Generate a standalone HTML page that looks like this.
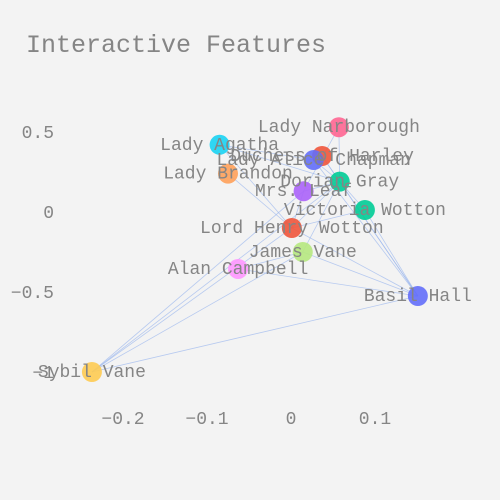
<!DOCTYPE html>
<html><head><meta charset="utf-8"><style>
html,body{margin:0;padding:0;background:#f3f3f3}
svg{display:block}
text{font-family:"Liberation Mono",monospace;fill:#858585}
</style></head><body>
<svg id="chart" width="500" height="500">
<rect width="500" height="500" fill="#f3f3f3"/>
<text x="26" y="52" font-size="25" fill="#909090">Interactive Features</text>
<g id="axes"></g><g id="edges"></g><g id="nodes"></g><g id="labels"></g>
</svg>
<script>
const names=["Lady Narborough","Lady Agatha","Duchess of Harley","Lady Alice Chapman","Lady Brandon","Dorian Gray","Mrs. Leaf","Victoria Wotton","Lord Henry Wotton","James Vane","Alan Campbell","Basil Hall","Sybil Vane"];
const xs=[0.057,-0.085,0.037,0.027,-0.075,0.058,0.015,0.088,0.001,0.014,-0.063,0.151,-0.237];
const ys=[0.53,0.42,0.35,0.325,0.24,0.19,0.13,0.0125,-0.1,-0.25,-0.356,-0.525,-1.0];
const colors=["#FF6692","#19D3F3","#EF553B","#636EFA","#FFA15A","#00CC96","#AB63FA","#00CC96","#EF553B","#B6E880","#FF97FF","#636EFA","#FECB52"];
const edgeFrom=[5,5,5,5,5,5,5,8,8,8,8,8,12,12,12,12,12,11,11,11,11,11,9,10,6,0,1];
const edgeTo=[0,1,2,3,8,7,11,4,1,7,6,11,8,5,9,11,6,9,10,7,2,3,5,9,5,6,3];
const xTicks=[-0.2,-0.1,0,0.1];
const xTickLabels=["\u22120.2","\u22120.1","0","0.1"];
const yTicks=[0.5,0,-0.5,-1];
const yTickLabels=["0.5","0","\u22120.5","\u22121"];
const X=v=>291+v*840, Y=v=>212-v*160;
const NS="http://www.w3.org/2000/svg";
const mk=(t,a,p)=>{const e=document.createElementNS(NS,t);for(const k in a)e.setAttribute(k,a[k]);p.appendChild(e);return e;};
const ax=document.getElementById('axes');
xTicks.forEach((v,i)=>{const t=mk('text',{x:X(v),y:424,'font-size':18,'text-anchor':'middle'},ax);t.textContent=xTickLabels[i];

});
yTicks.forEach((v,i)=>{const t=mk('text',{x:54,y:Y(v)+6,'font-size':18,'text-anchor':'end'},ax);t.textContent=yTickLabels[i];

});
const eg=document.getElementById('edges');
edgeFrom.forEach((f,i)=>{const t=edgeTo[i];const l=mk('line',{x1:X(xs[f]),y1:Y(ys[f]),x2:X(xs[t]),y2:Y(ys[t]),stroke:'#9db8ee','stroke-width':0.8,'stroke-opacity':0.7},eg);

});
const ng=document.getElementById('nodes'),lg=document.getElementById('labels');
names.forEach((n,i)=>{const c=mk('circle',{cx:X(xs[i]),cy:Y(ys[i]),r:10,fill:colors[i],'fill-opacity':0.9},ng);


const t=mk('text',{x:X(xs[i]),y:Y(ys[i])+5,'font-size':18,'text-anchor':'middle'},lg);t.textContent=n;

});
</script>
</body></html>
